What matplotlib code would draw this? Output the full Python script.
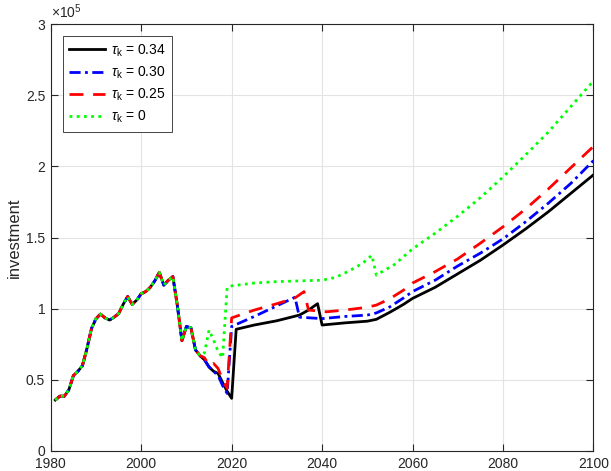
import matplotlib
matplotlib.use("Agg")
import matplotlib.pyplot as plt

plt.rcParams['font.family'] = ['Liberation Sans', 'DejaVu Sans']
plt.rcParams['mathtext.fontset'] = 'custom'
plt.rcParams['mathtext.rm'] = 'Liberation Sans'
plt.rcParams['mathtext.it'] = 'Liberation Sans:italic'

# Investment, in units of 1e5
hist_years = list(range(1981, 2014))
hist_vals = [0.358, 0.385, 0.385, 0.43, 0.53, 0.56, 0.60, 0.72, 0.86, 0.93,
             0.962, 0.935, 0.92, 0.94, 0.965, 1.03, 1.085, 1.03, 1.06, 1.105,
             1.12, 1.15, 1.195, 1.255, 1.165, 1.20, 1.225, 1.02, 0.775, 0.875,
             0.865, 0.71, 0.67]

# Projections per tax rate (year, value)
k34_years = [2014, 2015, 2016, 2017, 2018, 2019, 2020, 2021, 2025, 2030, 2035,
             2037, 2039, 2040, 2045, 2050, 2052, 2055, 2058, 2060, 2065, 2070,
             2075, 2080, 2085, 2090, 2095, 2100]
k34_vals = [0.64, 0.59, 0.56, 0.545, 0.48, 0.42, 0.37, 0.855, 0.885, 0.915, 0.955,
            0.99, 1.035, 0.885, 0.90, 0.912, 0.925, 0.975, 1.03, 1.072, 1.15, 1.245,
            1.34, 1.447, 1.56, 1.68, 1.81, 1.94]

k30_years = [2014, 2015, 2016, 2017, 2018, 2019, 2020, 2025, 2030, 2034, 2035,
             2040, 2045, 2050, 2052, 2055, 2058, 2060, 2065, 2070, 2075, 2080,
             2085, 2090, 2095, 2100]
k30_vals = [0.64, 0.59, 0.56, 0.53, 0.46, 0.405, 0.875, 0.945, 1.02, 1.08, 0.94,
            0.93, 0.945, 0.955, 0.97, 1.013, 1.075, 1.12, 1.20, 1.30, 1.39, 1.49,
            1.61, 1.74, 1.88, 2.04]

k25_years = [2014, 2015, 2016, 2017, 2018, 2019, 2020, 2025, 2030, 2034, 2036,
             2037, 2041, 2045, 2050, 2052, 2055, 2058, 2060, 2065, 2070, 2075,
             2080, 2085, 2090, 2095, 2100]
k25_vals = [0.655, 0.60, 0.615, 0.58, 0.50, 0.44, 0.935, 0.99, 1.035, 1.075, 1.12,
            0.99, 0.978, 0.99, 1.01, 1.025, 1.07, 1.13, 1.18, 1.26, 1.35, 1.46,
            1.575, 1.70, 1.84, 1.99, 2.14]

k0_years = [2014, 2015, 2016, 2017, 2018, 2019, 2020, 2025, 2030, 2035, 2040,
            2043, 2046, 2049, 2051, 2052, 2056, 2060, 2065, 2070, 2075, 2080,
            2085, 2090, 2095, 2100]
k0_vals = [0.69, 0.85, 0.78, 0.70, 0.655, 1.15, 1.16, 1.18, 1.19, 1.195, 1.20,
           1.22, 1.265, 1.32, 1.375, 1.236, 1.31, 1.42, 1.53, 1.65, 1.78, 1.925,
           2.08, 2.24, 2.42, 2.60]

labels = [r'$\tau_{\rm k}$ = 0.34', r'$\tau_{\rm k}$ = 0.30',
          r'$\tau_{\rm k}$ = 0.25', r'$\tau_{\rm k}$ = 0']

series = [
    (k34_years, k34_vals, dict(color='black', linestyle='-')),
    (k30_years, k30_vals, dict(color='#0000ff', linestyle=(0, (4.0, 1.6, 1.0, 1.6)))),
    (k25_years, k25_vals, dict(color='#ff0000', linestyle=(0, (5.0, 3.5)))),
    (k0_years, k0_vals, dict(color='#00ff00', linestyle=(0, (1.0, 1.6)))),
]

fig = plt.figure(figsize=(6.11, 4.71), dpi=100)
ax = fig.add_axes([0.0831, 0.0425, 0.8881, 0.9065])

for (yrs, vals, style), lab in zip(series, labels):
    x = hist_years + yrs
    y = hist_vals + vals
    ax.plot(x, y, linewidth=2.0, label=lab, **style)

ax.set_xlim(1980, 2100)
ax.set_ylim(0, 3)
ax.set_xticks(range(1980, 2101, 20))
ax.set_yticks([0, 0.5, 1, 1.5, 2, 2.5, 3])
ax.set_yticklabels(['0', '0.5', '1', '1.5', '2', '2.5', '3'])

axcol = '#262626'
ax.grid(True, color='#e3e3e3', linewidth=0.8)
ax.set_axisbelow(True)
for s in ax.spines.values():
    s.set_color(axcol)
    s.set_linewidth(0.8)
ax.tick_params(direction='in', length=5, width=0.8, color=axcol,
               labelcolor=axcol, labelsize=10, top=True, right=True)
ax.tick_params(axis='x', pad=4)
ax.tick_params(axis='y', pad=4)

ax.set_ylabel('investment', fontsize=12, color=axcol, labelpad=3)
ax.text(0.0, 1.008, r'$\times10^{5}$', transform=ax.transAxes, fontsize=10,
        color=axcol, ha='left', va='bottom')

leg = ax.legend(loc='upper left', bbox_to_anchor=(0.0225, 0.972),
                borderaxespad=0, fontsize=10,
                handlelength=2.6, handletextpad=0.4, labelspacing=0.42,
                borderpad=0.45, fancybox=False, framealpha=1, edgecolor=axcol)
leg.get_frame().set_linewidth(0.6)

fig.savefig('out.png', dpi=100)
